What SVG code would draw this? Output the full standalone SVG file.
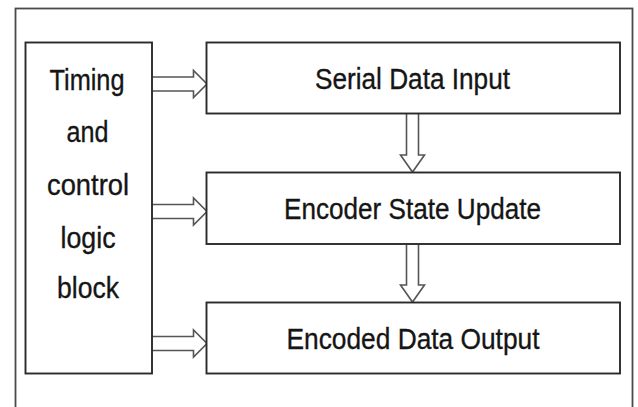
<svg xmlns="http://www.w3.org/2000/svg" width="638" height="407" viewBox="0 0 638 407">
<style>
.frame{fill:none;stroke:#4a4a4a;stroke-width:1.8}
.box{fill:#fff;stroke:#2a2a2a;stroke-width:1.9}
.arr{fill:#fff;stroke:#555;stroke-width:1.6;stroke-linejoin:miter}
.t{font-family:"Liberation Sans",Arial,sans-serif;font-size:30px;fill:#151515;stroke:#151515;stroke-width:0.35;text-anchor:middle}
</style>
<rect x="0" y="0" width="638" height="407" fill="#fff"/>
<rect class="frame" x="15.5" y="8.5" width="617" height="420"/>
<g id="connectors">
<path class="arr" d="M152,77 H193.5 V70.5 L207,84 L193.5,97.5 V91 H152"/>
<path class="arr" d="M152,204.5 H193.5 V198 L207,211.5 L193.5,225 V218.5 H152"/>
<path class="arr" d="M152,336.5 H193.5 V330 L207,343.5 L193.5,357 V350.5 H152"/>
<path class="arr" d="M406.5,113.5 V155 H400.5 L412.5,172 L424.5,155 H418.5 V113.5"/>
<path class="arr" d="M406.5,244.5 V285 H400.5 L412.5,302 L424.5,285 H418.5 V244.5"/>
</g>
<g id="timing">
<rect class="box" x="25.5" y="42.5" width="126.5" height="331"/>
<text class="t" x="87" y="90" textLength="75" lengthAdjust="spacingAndGlyphs">Timing</text>
<text class="t" x="87.5" y="142" textLength="42" lengthAdjust="spacingAndGlyphs">and</text>
<text class="t" x="88" y="195" textLength="82" lengthAdjust="spacingAndGlyphs">control</text>
<text class="t" x="88" y="248" textLength="55" lengthAdjust="spacingAndGlyphs">logic</text>
<text class="t" x="88" y="298" textLength="62" lengthAdjust="spacingAndGlyphs">block</text>
</g>
<g id="serial">
<rect class="box" x="206.5" y="42.5" width="413.5" height="71"/>
<text class="t" x="412.5" y="88.5" textLength="195" lengthAdjust="spacingAndGlyphs">Serial Data Input</text>
</g>
<g id="encoder">
<rect class="box" x="206.5" y="172.5" width="413.5" height="71.5"/>
<text class="t" x="412.5" y="218.5" textLength="257" lengthAdjust="spacingAndGlyphs">Encoder State Update</text>
</g>
<g id="output">
<rect class="box" x="206.5" y="302.5" width="413.5" height="71"/>
<text class="t" x="413" y="348.5" textLength="253" lengthAdjust="spacingAndGlyphs">Encoded Data Output</text>
</g>
</svg>
